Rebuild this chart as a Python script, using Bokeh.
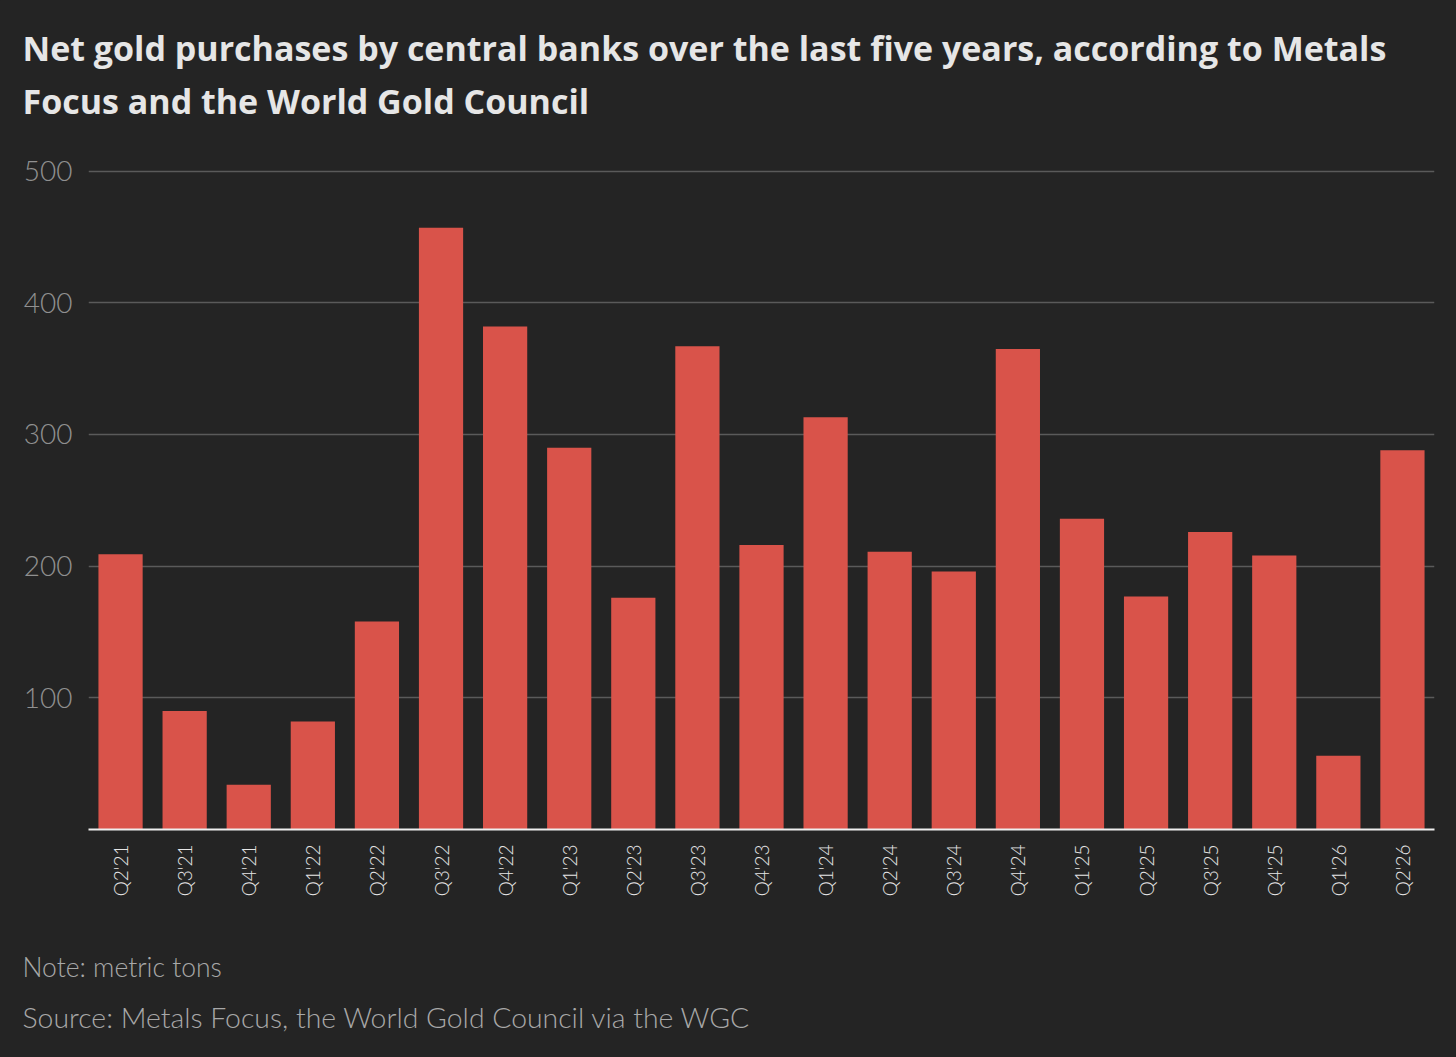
import math
from bokeh.plotting import figure
from bokeh.models import Title, Range1d, FixedTicker
from bokeh.embed import file_html
from bokeh.resources import INLINE

quarters = ["Q2'21", "Q3'21", "Q4'21", "Q1'22", "Q2'22", "Q3'22", "Q4'22",
            "Q1'23", "Q2'23", "Q3'23", "Q4'23", "Q1'24", "Q2'24", "Q3'24",
            "Q4'24", "Q1'25", "Q2'25", "Q3'25", "Q4'25", "Q1'26", "Q2'26"]
purchases = [209, 90, 34, 82, 158, 457, 382, 290, 176, 367, 216, 313, 211,
             196, 365, 236, 177, 226, 208, 56, 288]
y_ticks = [100, 200, 300, 400, 500]

title_line1 = "Net gold purchases by central banks over the last five years, according to Metals"
title_line2 = "Focus and the World Gold Council"
note_text = "Note: metric tons"
source_text = "Source: Metals Focus, the World Gold Council via the WGC"

BG = "#242424"
BAR = "#d9534a"
LIGHT = "Lato Light, Lato"

p = figure(x_range=quarters, y_range=Range1d(0, 502),
           frame_width=1346, frame_height=661,
           output_backend="svg", toolbar_location=None,
           background_fill_color=BG, border_fill_color=BG,
           min_border_left=88, min_border_right=8,
           min_border_top=0, min_border_bottom=0)
p.outline_line_color = None

p.vbar(x=quarters, top=purchases, width=0.69, fill_color=BAR, line_color=None)

# y axis
p.yaxis.ticker = FixedTicker(ticks=y_ticks)
p.yaxis.axis_line_color = None
p.yaxis.major_tick_line_color = None
p.yaxis.minor_tick_line_color = None
p.yaxis.major_label_text_color = "#909090"
p.yaxis.major_label_text_font = LIGHT
p.yaxis.major_label_text_font_size = "28px"
p.yaxis.major_label_standoff = 10

# x axis
p.xaxis.axis_line_color = "#eeeeee"
p.xaxis.axis_line_width = 2
p.xaxis.major_tick_line_color = None
p.xaxis.minor_tick_line_color = None
p.xaxis.major_label_orientation = math.pi / 2
p.xaxis.major_label_text_color = "#e6e6e6"
p.xaxis.major_label_text_font = LIGHT
p.xaxis.major_label_text_font_size = "19px"
p.xaxis.major_label_standoff = 9

p.xgrid.grid_line_color = None
p.ygrid.grid_line_color = "#5a5a5a"
p.ygrid.grid_line_width = 1.5


def spacer(px):
    return Title(text=" ", text_font_size="1px", standoff=px, text_color=BG)


def head(text, standoff):
    return Title(text=text, align="left", offset=-66, standoff=standoff,
                 text_font="Open Sans", text_font_style="bold", text_font_size="34px",
                 text_color="#e6e6e6")


def foot(text, size, standoff):
    return Title(text=text, align="left", offset=-66, standoff=standoff,
                 text_font=LIGHT, text_font_style="normal", text_font_size=size,
                 text_color="#a8a8a8")


# above: first added is nearest the plot
p.add_layout(spacer(39), "above")
p.add_layout(head(title_line2, 5), "above")
p.add_layout(head(title_line1, 5), "above")
p.add_layout(spacer(17), "above")

# below: first added is nearest the plot
p.add_layout(spacer(40), "below")
p.add_layout(foot(note_text, "26.5px", 13), "below")
p.add_layout(foot(source_text, "28.4px", 17), "below")

html = file_html(p, INLINE)
html = html.replace("<head>", "<head><style>html, body { background: #242424; }</style>", 1)
open("out.html", "w").write(html)
